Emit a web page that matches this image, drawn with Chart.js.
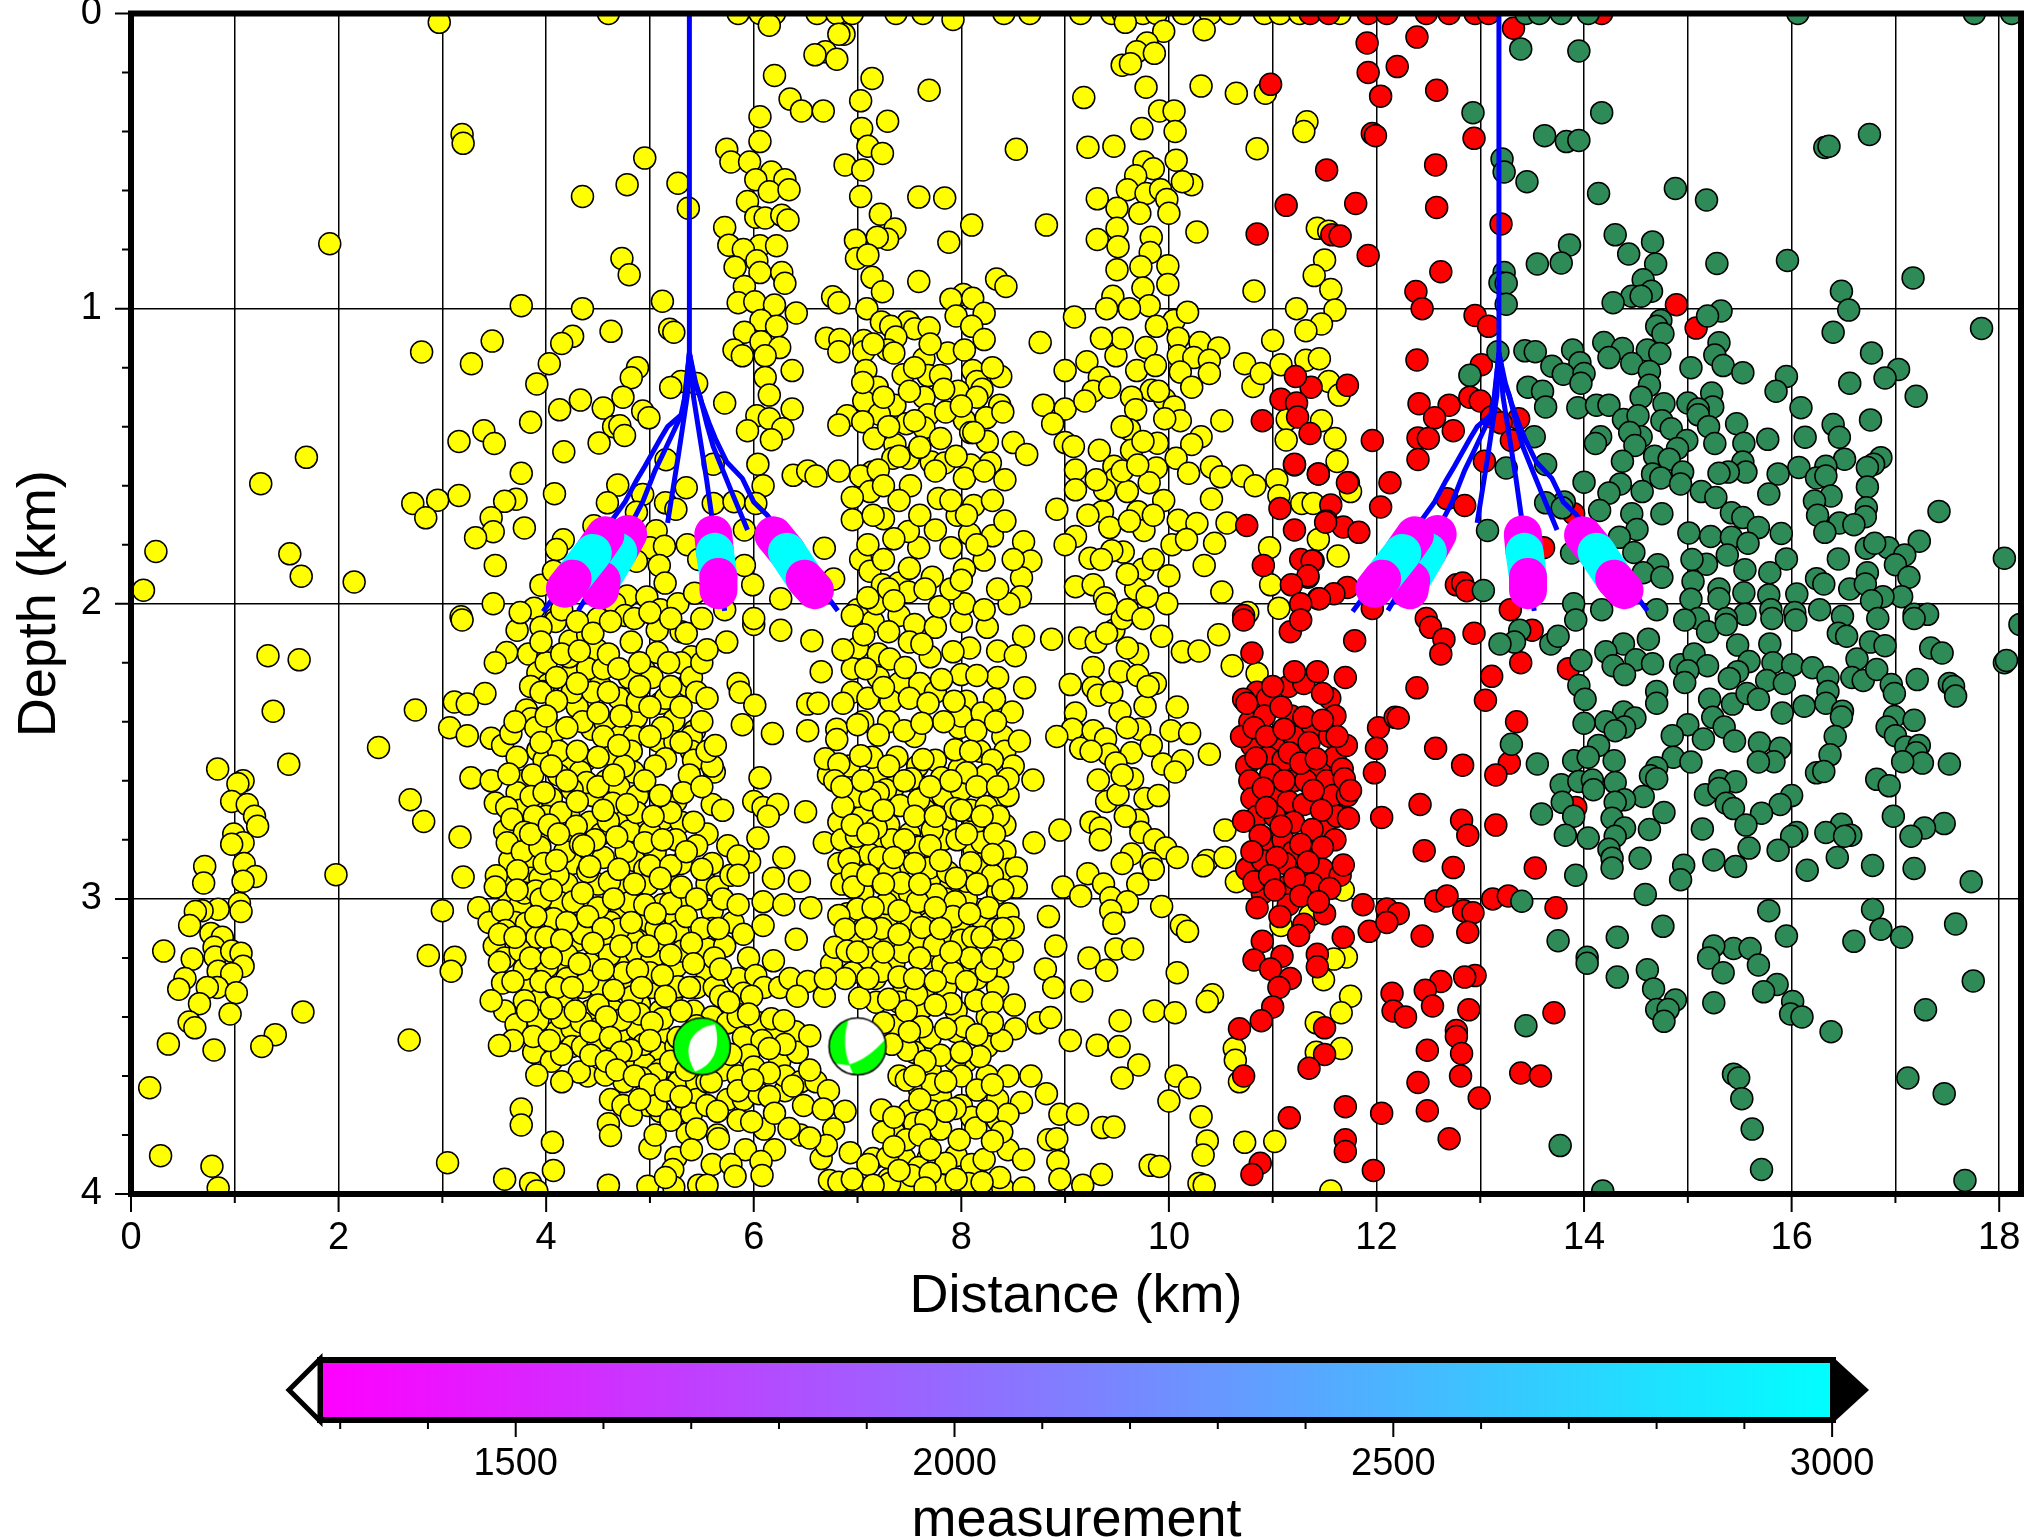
<!DOCTYPE html>
<html lang="en">
<head>
<meta charset="UTF-8">
<title>Depth section</title>
<script src="https://cdn.jsdelivr.net/npm/chart.js"></script>
<style>
  html, body { margin: 0; padding: 0; background: #fff; overflow: hidden; }
  canvas { position: absolute; left: 0; }
  #section { top: 0; }
  #colorbar { top: 1340px; }
</style>
</head>
<body>
<canvas id="section" width="2025" height="1330"></canvas>
<canvas id="colorbar" width="2025" height="214"></canvas>
<script>
// events, [distance km, depth km]
const yellowEvents = [
[2.97,.03],[3.19,.41],[3.2,.44],[4.95,.49],[4.78,.58],[5.27,.575],[4.35,.62],[5.37,.66],[1.915,.78],[4.73,.83],[4.8,.885],[5.12,.975],[3.76,.99],[4.35,1],[4.625,1.077],[5.19,1.07],[5.23,1.08],
[3.48,1.11],[4.255,1.094],[4.15,1.118],[2.8,1.147],[3.28,1.187],[4.03,1.187],[4.88,1.2],[4.82,1.234],[3.91,1.255],[5.3,1.247],[5.2,1.267],[5.45,1.254],[4.33,1.31],[4.74,1.3],[4.55,1.337],[4.93,1.347],[4.99,1.37],[4.13,1.343],
[3.85,1.385],[3.4,1.414],[3.5,1.457],[3.16,1.45],[4.65,1.4],[4.71,1.397],[4.755,1.43],[4.51,1.455],[4.17,1.485],[1.69,1.504],[1.25,1.593],[5.155,1.512],[3.76,1.558],[4.69,1.598],[3.16,1.633],[2.715,1.66],[2.955,1.649],[2.84,1.709],
[3.71,1.646],[3.6,1.653],[3.47,1.709],[4.08,1.627],[4.93,1.63],[4.59,1.658],[5.15,1.658],[5.25,1.68],[5.35,1.607],[4.87,1.69],[3.49,1.756],[3.32,1.776],[3.79,1.743],[4.46,1.736],[4.165,1.783],[4.1,1.816],[5.06,1.753],[5,1.81],[5.14,1.805],[5.36,1.8],[5.47,1.85],[5.09,1.87],
[.24,1.823],[1.53,1.831],[1.64,1.907],[2.15,1.926],[.12,1.954],[3.51,1.87],[3.95,1.937],[4.07,1.89],[4.87,1.856],[3.49,2],[3.885,2.015],[3.18,2.044],[5.146,1.93],[4.78,1.974],[4.97,1.977],[4.66,2],[5.1,2.02],[5.27,2],[5.43,1.964],[4.5,2.05],[4.09,2.05],[4.76,2.04],
[3.19,2.055],[1.32,2.176],[1.62,2.19],[1.37,2.364],[3.72,2.09],[3.62,2.165],[3.51,2.2],[3.83,2.17],[4.015,2.18],[4.09,2.06],[4.23,2.126],[4.4,2.105],[4.49,2.156],[4.82,2.13],[5.07,2.09],[5.07,2.165],[5.3,2.095],[5.4,2.18],[3.92,2.234],[4.02,2.274],[3.97,2.297],[4.245,2.236],[4.52,2.277],[4.95,2.227],[4.78,2.324],[5.1,2.337],[5.36,2.277],[4.3,2.35],[3.41,2.304],[3.115,2.333],[3.24,2.34],[2.74,2.36],[3.81,2.36],[3.855,2.39],
[3.07,2.42],[3.24,2.447],[2.385,2.487],[3.47,2.456],[3.58,2.48],[3.66,2.44],[4.03,2.425],[4.09,2.43],[3.92,2.496],[4.44,2.425],[4.57,2.405],[4.87,2.385],[5.23,2.395],[5.08,2.465],[5.24,2.468],[4.71,2.45],[5.43,2.43],[4.61,2.51],[5.15,2.525],[4.24,2.546],
[3.85,2.28],[3.7,2.4],[4,2.2],[4.22,2.18],[4.4,2.22],[4.55,2.22],[4.8,2.25],[5.02,2.25],[5.3,2.2],[3.95,2.3],[4.25,2.3],[4.45,2.3],[4.7,2.32],[4.88,2.33],[5.15,2.32],[5.4,2.25],[4.35,2.4],[4.55,2.45],[4.85,2.45],[5.12,2.42],[5.4,2.45],[5.4,2.5],[3.9,2.42],
[1.52,2.544],[.835,2.56],[1.08,2.6],[1.03,2.61],[.97,2.67],[1.12,2.68],[1.19,2.72],[1.22,2.754],[.99,2.78],[1.08,2.81],[.97,2.815],[1.09,2.88],[1.2,2.924],[1.08,2.94],[.71,2.89],[.7,2.946],[1.975,2.918],[1.045,3.016],[1.06,3.043],[.84,3.035],[.685,3.04],[.62,3.043],[.565,3.09],[.77,3.117],[.88,3.13],[.315,3.177],[.59,3.204],[.8,3.164],[.81,3.197],[.97,3.177],[1.06,3.184],[1.08,3.228],[.84,3.245],[.97,3.254],[.52,3.27],[.46,3.306],[.83,3.3],[.735,3.3],[1.015,3.318],[.66,3.355],[.955,3.39],[1.657,3.383],[.56,3.417],[.615,3.437],[1.39,3.46],[1.26,3.5],[.36,3.492],[.8,3.512],[2.68,3.478],[.18,3.64],[.285,3.87],[.78,3.906],[.84,3.98],
[2.69,2.664],[2.82,2.738],[3.17,2.79],[3.2,2.926],[3,3.04],[3.35,3.03],[3.275,2.59],[2.865,3.192],[3.12,3.198],[3.085,3.245],[3.05,3.894],
[3.72,2.52],[3.98,2.53],[4.12,2.5],[4.38,2.53],[4.82,2.5],[5.42,2.53],[3.78,2.6],[4.12,2.58],[4.33,2.57],[4.58,2.6],[4.84,2.57],[5.05,2.55],[5.38,2.58],[5.62,2.57],[3.72,2.64],[3.95,2.68],[4.05,2.66],[4.45,2.65],[4.7,2.62],[4.88,2.65],[5.25,2.67],[5.6,2.68],[3.75,2.7],[4,2.72],[4.22,2.72],[4.42,2.74],[4.72,2.73],[4.92,2.75],[5.12,2.73],[5.3,2.74],[5.55,2.78],[3.6,2.77],[3.92,2.8],[4.25,2.8],[4.53,2.78],[4.8,2.77],[5.05,2.84],[5.25,2.8],[5.45,2.82],[3.65,2.87],[3.85,2.86],[4.25,2.88],[4.55,2.86],[4.85,2.87],[4.95,2.9],[5.3,2.88],[5.6,2.88],[3.6,2.95],[3.85,2.93],[4.2,2.95],[4.5,2.95],[4.75,2.96],[4.98,2.95],[5.2,2.95],[5.55,2.95],[3.65,3],[3.75,3.02],[4.2,3.02],[4.38,3.02],[4.72,3.05],[4.88,3.02],[5.12,3.02],[5.28,3.02],[5.6,3.04],[3.45,3.08],[3.7,3.08],[4,3.08],[4.3,3.09],[4.62,3.08],[4.9,3.1],[5.25,3.07],[5.6,3.1],[3.5,3.16],[3.85,3.14],[4.08,3.16],[4.3,3.14],[4.58,3.16],[4.85,3.14],[5.1,3.17],[5.3,3.14],[5.55,3.17],[3.6,3.2],[3.92,3.22],[4.12,3.24],[4.42,3.22],[4.7,3.22],[4.95,3.24],[5.25,3.23],[5.55,3.25],[3.85,3.29],[4,3.3],[4.2,3.27],[4.35,3.3],[4.52,3.3],[4.78,3.3],[5.02,3.3],[5.22,3.32],[5.45,3.3],[5.62,3.3],[3.6,3.38],[3.88,3.38],[4.22,3.36],[4.42,3.38],[4.65,3.38],[4.9,3.36],[5.1,3.38],[5.42,3.38],[5.6,3.4],[3.8,3.45],[4.1,3.45],[4.25,3.44],[4.5,3.44],[4.72,3.45],[4.88,3.44],[5.12,3.47],[5.45,3.43],[5.75,3.42],[3.88,3.52],[4.05,3.55],[4.25,3.5],[4.35,3.5],[4.82,3.55],[4.92,3.5],[5.08,3.52],[5.25,3.5],[4.4,3.6],[4.75,3.62],[4.95,3.56],[5.1,3.58],[5.28,3.62],[5.45,3.62],[5.7,3.58],[5.85,3.6],[4.62,3.68],[4.98,3.7],[5.1,3.72],[5.35,3.72],[5.45,3.68],[5.75,3.68],[5.9,3.68],[6.05,3.66],[6.3,3.65],
[5.6,2.55],[5.7,2.7],[5.75,2.82],[5.65,2.96],[5.78,2.92],[5.7,3],[5.8,3.08],[5.9,3.12],[5.72,3.16],[5.95,3.2],[5.62,3.2],[5.85,3.27],[6.02,3.26],[6.1,3.3],[5.68,3.33],[5.9,3.32],[6.25,3.3],[6.35,3.27],[5.85,3.4],[6.05,3.42],[6.22,3.45],[5.62,3.47],[5.9,3.47],[6.08,3.48],[6.4,3.45],[5.72,3.52],[5.95,3.53],[6.25,3.55],[6.42,3.52],[6,3.57],[6.3,3.6],[6.45,3.62],[5.85,3.65],[6.15,3.67],[6.48,3.7],[6.6,3.62],[6.68,3.33],[6.72,3.65],[5.85,3.75],[6.1,3.78],[6.45,3.8],[6.65,3.88],[6.2,3.85],[5.6,3.9],[5.92,3.85],
[3.47,2.6],[3.64,2.577],[3.87,2.58],[3.51,2.675],[3.62,2.69],[3.67,2.73],[3.855,2.653],[3.885,2.72],[4.14,2.707],[4.29,2.754],[4.39,2.606],[4.25,2.63],[4.64,2.676],[4.6,2.737],[4.87,2.707],[5,2.774],[5.2,2.707],[5.32,2.64],[3.79,2.774],[3.625,2.81],[3.77,2.84],[3.94,2.825],[4.18,2.84],[4.47,2.8],[4.33,2.815],[4.77,2.84],[5,2.888],[5.2,2.888],[4.61,2.942],[4.4,2.908],[4.115,2.92],[3.94,2.93],[3.725,2.905],[3.52,2.922],[3.51,2.96],[3.79,2.98],[3.9,2.973],[4.13,3.012],[4.26,3.01],[4.8,3.013],[5.2,3.016],[3.58,3.04],[3.81,3.083],[3.61,3.107],[4.07,3.067],[3.91,3.13],[4.35,3.117],[4.7,3.103],[4.99,3.077],[5.06,3.1],[5.27,3.11],[3.55,3.12],[3.75,3.175],[4.2,3.19],[4.61,3.19],[4.87,3.184],[5.31,3.177],[3.55,3.215],[3.79,3.238],[4.01,3.23],[4.75,3.25],[5.02,3.204],[5,3.25],[3.58,3.285],[4.4,3.278],[5.27,3.298],[3.92,3.345],[3.47,3.345],[3.79,3.345],[4.15,3.35],[4.83,3.332],[4.5,3.36],[4.72,3.41],[4.9,3.39],[5.12,3.406],[3.92,3.413],[4.15,3.403],[4.34,3.417],[3.71,3.426],[3.875,3.466],[3.68,3.48],[3.55,3.497],[4.5,3.487],[4.94,3.493],[4.82,3.513],[4.15,3.527],[4.03,3.48],[3.91,3.597],[4.32,3.587],[4.57,3.597],[4.15,3.62],[5.06,3.594],[4.92,3.607],[3.76,3.712],[3.76,3.766],[4.74,3.7],[4.82,3.733],[5.06,3.7],[4.6,3.762],[4.62,3.802],[5.4,3.728],[4.06,3.825],[4.07,3.92],[5,3.845],[5.25,3.876],[5.22,3.917],[3.6,3.95],[3.85,3.964],[3.91,3.99],[4.6,3.97],[4.98,3.974],[5.23,3.977],[5.47,3.97],[5.15,3.944],[5.36,3.796],
[4.05,2.55],[4.2,2.6],[4.5,2.62],[4.75,2.55],[4.95,2.6],[5.1,2.65],[4.65,2.58],[3.98,2.64],[4.3,2.67],[4.55,2.7],[4.78,2.68],[5.03,2.72],[5.42,2.74],[5.5,2.62],[3.85,2.78],[4.03,2.75],[4.12,2.78],[4.36,2.82],[4.68,2.79],[4.95,2.81],[5.12,2.8],[5.35,2.84],[5.5,2.9],[3.98,2.88],[4.1,2.87],[4.42,2.89],[4.7,2.9],[4.85,2.95],[5.1,2.93],[5.3,2.96],[5.45,3],[3.72,2.97],[3.95,3],[4.05,2.97],[4.35,2.98],[4.5,3.03],[4.65,3],[4.95,3.02],[5.05,3.05],[5.35,3.06],[5.5,3.1],[3.9,3.06],[4.2,3.08],[4.4,3.06],[4.55,3.1],[4.82,3.08],[5.15,3.12],[5.4,3.15],[3.7,3.13],[4,3.13],[4.15,3.14],[4.45,3.15],[4.72,3.16],[4.98,3.16],[5.2,3.19],[5.42,3.22],[3.85,3.2],[4.05,3.2],[4.32,3.22],[4.55,3.24],[4.88,3.24],[5.12,3.26],[5.38,3.3],[3.68,3.28],[3.95,3.28],[4.1,3.3],[4.25,3.3],[4.65,3.31],[4.92,3.3],[5.15,3.33],[5.3,3.38],[3.82,3.38],[4.05,3.37],[4.28,3.38],[4.58,3.4],[4.8,3.38],[5.02,3.42],[5.27,3.47],[4.43,3.45],[4.62,3.47],[4.72,3.52],[5,3.48],[5.2,3.55],[5.35,3.58],[5.55,3.62],[4.43,3.53],[4.58,3.55],[4.68,3.58],[4.85,3.6],[5,3.63],[5.15,3.65],[5.3,3.67],[4.9,3.68],[5.2,3.75],[5.45,3.78],[5.55,3.7],[5.65,3.8],[5.4,3.85],[5.05,3.8],
[3.75,2.03],[3.95,2.08],[4.15,2.02],[4.3,2.06],[4.45,2.1],[4.62,2.06],[4.85,2.05],[5,2.03],[5.2,2.05],[5.35,2.1],[5.5,2.05],[3.95,2.13],[4.15,2.17],[4.32,2.16],[4.6,2.17],[4.7,2.22],[4.9,2.2],[5.18,2.2],[5.5,2.2],[4.1,2.25],[4.3,2.27],[4.6,2.3],[4.9,2.28],[5.2,2.28],[5.45,2.3],[4.1,2.33],[4.5,2.37],[4.72,2.38],[5,2.35],[5.3,2.35],[5.5,2.4],[4,2.38],[4.2,2.42],[4.7,2.48],[5,2.45],[5.3,2.47],[5.55,2.5],[3.95,2.47],[4.3,2.5],[4.5,2.52],
[6,2.07],[5.74,2.13],[5.55,2.156],[6.26,2.09],[6.56,2.125],[6.65,2.23],[5.85,2.27],[5.87,2.3],[5.55,2.32],[6.01,2.344],[6.52,2.34],[6.62,2.337],[5.89,2.41],[6.18,2.44],[6.52,2.43],[5.63,2.48],[6.06,2.59],[6,2.67],[6.09,2.69],[6.23,2.68],[6.5,2.705],[6.14,2.72],[6.04,2.794],[6.68,2.81],[6.29,2.86],[5.96,2.875],[5.85,2.855],[6.19,2.93],[6.44,2.94],[5.85,2.92],[6.09,3.01],[6.29,3.02],[6.55,3.03],[5.85,3.02],[6.09,3.09],[5.66,3.1],[6.41,3.137],[6.19,3.21],[5.68,3.238],[6.52,3.28],[5.98,3.33],[6.42,3.33],[5.76,3.35],[6.17,3.406],[6.29,3.413],[5.95,3.39],[6.54,3.464],[6.3,3.493],[6.15,3.507],[6.54,3.58],[5.78,3.527],[6.15,3.59],[5.59,3.62],[6.375,3.634],[5.99,3.614],[5.65,3.72],[6.2,3.726],[6.67,3.712],[5.98,3.755],[6.34,3.778],[6.88,3.72],[6.77,3.78],[6.7,3.836],[6.54,3.81],[5.66,3.813],[5.78,3.9],[5.82,3.94],[6.07,3.89],[6.08,3.937],[6.93,3.86],[5.55,3.97],
[7,2.02],[7.15,2.06],[7.4,2.04],[7.55,2.07],[7.75,2.08],[8,2.06],[8.25,2.08],[7,2.15],[7.2,2.17],[7.5,2.13],[7.7,2.18],[8.08,2.15],[8.35,2.16],[6.95,2.22],[7.2,2.25],[7.4,2.27],[7.6,2.27],[8,2.24],[8.35,2.25],[6.95,2.3],[7.1,2.32],[7.32,2.33],[7.5,2.32],[7.75,2.3],[8.05,2.33],[7.05,2.4],[7.3,2.4],[7.55,2.45],[7.98,2.42],[8,2.38],[8.4,2.45],[6.72,2.58],[6.92,2.55],[7.2,2.58],[7.35,2.62],[7.58,2.55],[7.75,2.53],[7.98,2.56],[8.18,2.5],[8.42,2.5],[8.5,2.55],[6.95,2.66],[7.27,2.63],[7.6,2.62],[7.82,2.65],[8,2.63],[8.35,2.67],[8.45,2.65],[6.82,2.74],[7.05,2.72],[7.3,2.75],[7.5,2.78],[7.65,2.7],[7.85,2.75],[8.12,2.75],[8.42,2.75],[6.85,2.8],[7.2,2.82],[7.33,2.8],[7.55,2.82],[7.82,2.8],[8.12,2.83],[8.42,2.84],[6.82,2.88],[7.02,2.85],[7.12,2.85],[7.45,2.88],[7.7,2.95],[7.9,2.95],[8.2,2.88],[8.45,2.9],[6.85,2.95],[7.05,2.98],[7.35,3],[7.5,2.98],[7.62,3.03],[7.85,3],[8.05,3],[8.35,2.98],[6.9,3.05],[7.1,3.05],[7.28,3.07],[7.52,3.07],[7.7,3.08],[7.98,3.08],[8.2,3.07],[7.02,3.13],[7.15,3.15],[7.32,3.15],[7.55,3.14],[7.85,3.14],[8,3.14],[8.35,3.16],[7.1,3.2],[7.35,3.22],[7.68,3.2],[7.82,3.22],[8,3.22],[8.4,3.23],[6.75,3.22],[6.95,3.25],[7.17,3.27],[7.45,3.3],[7.65,3.3],[7.85,3.3],[8.15,3.27],[8.35,3.3],[7.18,3.35],[7.4,3.35],[7.62,3.37],[7.95,3.38],[8.25,3.4],[7.15,3.48],[7.35,3.43],[7.7,3.47],[7.95,3.45],[8.25,3.5],[8.05,3.55],[7.55,3.52],[7.7,3.58],[8.25,3.6],[8.45,3.6],[7.4,3.6],[7.6,3.65],[7.8,3.67],[8,3.7],[8.35,3.68],[7.5,3.72],[7.72,3.72],[8.1,3.74],[8.35,3.75],[7.35,3.79],[7.55,3.76],[7.8,3.78],[7.45,3.88],[7.68,3.88],[7.95,3.87],[8.1,3.9],[8.45,3.85],[7.15,3.88],[7.3,3.95],[7.5,3.98],[7.85,3.95],[8.4,3.98],
[6.86,2.156],[7.06,2.105],[7.3,2.095],[7.62,2.136],[7.92,2.163],[7.08,2.22],[7.31,2.187],[7.46,2.216],[7.81,2.257],[8.15,2.243],[8.6,2.11],[8.87,2.12],[8.52,2.176],[9.14,2.116],[8.61,2.285],[7.25,2.284],[6.86,2.337],[7.68,2.337],[7.93,2.33],[8.32,2.324],[8.2,2.37],[8.49,2.367],[7.83,2.4],[6.8,2.425],[7,2.41],[6.8,2.46],[7.2,2.445],[7.45,2.43],[7.62,2.405],[8.14,2.43],[8.33,2.4],[8.56,2.465],[6.69,2.525],[6.82,2.543],[7.14,2.52],[7.03,2.515],[7.38,2.52],[7.63,2.528],[7.94,2.495],[8.09,2.5],[8.3,2.53],[8.69,2.597],[8.45,2.593],[8.24,2.58],[8.05,2.573],[7.81,2.59],[7.52,2.593],[7.2,2.64],[7,2.653],[6.86,2.687],[7.12,2.664],[7.41,2.684],[7.59,2.664],[7.94,2.694],[8.09,2.7],[8.24,2.687],[8.36,2.72],[7.18,2.76],[6.99,2.788],[7.72,2.767],[7.96,2.8],[8.2,2.808],[8.7,2.81],[7.59,2.825],[6.92,2.866],[7.21,2.86],[7.31,2.91],[6.95,2.915],[7.69,2.895],[7.87,2.91],[8.09,2.878],[8.3,2.92],[8.53,2.895],[8.05,2.94],[7.42,2.946],[6.96,2.96],[7.76,2.985],[8.53,2.96],[7.28,3.016],[7.58,3.01],[7.94,3.01],[8.26,3.03],[7,3.034],[6.82,3.056],[7.92,3.06],[8.45,3.05],[7.23,3.1],[7.62,3.097],[6.88,3.103],[8.5,3.097],[8.33,3.103],[7.74,3.157],[8.11,3.13],[6.78,3.164],[6.9,3.177],[7.44,3.18],[8.49,3.177],[8.09,3.2],[8.24,3.245],[7.23,3.245],[7.92,3.25],[7.4,3.265],[6.88,3.27],[6.69,3.27],[7.02,3.336],[7.57,3.325],[8.14,3.345],[7.9,3.355],[8.51,3.36],[8.3,3.352],[7.47,3.38],[8.03,3.433],[7.62,3.433],[8.52,3.44],[8.74,3.42],[8.86,3.402],[7.48,3.513],[8.39,3.48],[8.18,3.534],[7.94,3.547],[7.33,3.493],[7.47,3.614],[8,3.6],[8.67,3.6],[8.15,3.648],[7.72,3.628],[8.82,3.66],[8.58,3.69],[7.23,3.715],[7.94,3.71],[7.66,3.75],[8.45,3.73],[8.95,3.73],[9.12,3.73],[7.25,3.79],[8.14,3.776],[7.47,3.816],[7.98,3.816],[8.39,3.79],[8.84,3.816],[8.92,3.813],[7.29,3.876],[7.85,3.896],[8.22,3.883],[8.6,3.883],[8.93,3.89],[7.59,3.91],[6.73,3.954],[6.82,3.96],[7.01,3.98],[7.31,3.964],[7.52,3.937],[7.81,3.97],[8.07,3.964],[8.37,3.944],[8.6,3.98],[8.95,3.95],[9.35,3.934],[9.17,3.97],
[6.78,2.6],[6.85,2.62],[7.05,2.6],[7.3,2.55],[7.45,2.6],[7.7,2.62],[7.9,2.6],[8.15,2.62],[8.35,2.62],[7.25,2.7],[7.55,2.72],[7.75,2.72],[8,2.7],[8.2,2.72],[6.95,2.75],[7.1,2.78],[7.45,2.8],[7.7,2.82],[8.05,2.78],[8.32,2.78],[7.35,2.86],[7.55,2.88],[7.8,2.87],[8.3,2.85],[7.1,2.92],[7.25,2.95],[7.6,2.95],[7.95,2.93],[8.15,2.95],[8.4,2.97],[7.15,3.03],[7.4,3.04],[7.75,3.03],[8.08,3.05],[8.4,3.1],[7.08,3.1],[7.4,3.12],[7.8,3.1],[8.2,3.13],[7,3.18],[7.25,3.18],[7.6,3.2],[7.9,3.18],[8.3,3.2],[7.1,3.27],[7.55,3.27],[7.75,3.28],[8.05,3.28],[7.3,3.34],[7.75,3.36],[8.3,3.42],[7.25,3.42],[7.5,3.45],[7.85,3.44],[8.15,3.46],[7.8,3.53],[8,3.52],[7.65,3.55],[7.55,3.6],[7.85,3.62],[8.3,3.63],[7.6,3.68],[7.85,3.72],[8.25,3.72],[7.35,3.74],[7.6,3.8],[8.3,3.82],[7.35,3.84],[7.7,3.85],[7.1,3.9],[7.4,3.92],[7.7,3.93],[7.95,3.95],[8.2,3.96],[6.95,3.95],[7.15,3.97],[7.65,3.98],
[9.47,2.09],[9.3,2.13],[9.93,2.11],[10.48,2.105],[10.13,2.163],[10.29,2.16],[10.61,2.21],[10.85,2.236],[9.7,2.17],[9.27,2.216],[9.53,2.23],[9.7,2.243],[9.87,2.27],[9.05,2.274],[9.27,2.284],[9.32,2.31],[9.1,2.37],[9.53,2.365],[9.77,2.347],[10.08,2.35],[9.07,2.425],[8.92,2.45],[9.15,2.49],[9.27,2.43],[9.72,2.425],[9.39,2.458],[10.02,2.43],[10.2,2.44],[9.64,2.505],[9.83,2.48],[9.42,2.51],[10.39,2.51],[9.49,2.54],[9.94,2.543],[10.13,2.532],[10.06,2.57],[9.32,2.597],[9.65,2.593],[9.77,2.66],[9.4,2.67],[9.51,2.646],[8.95,2.767],[9.25,2.74],[9.34,2.76],[9.34,2.8],[9.7,2.734],[9.73,2.774],[9.86,2.8],[9.64,2.848],[9.97,2.828],[10.08,2.86],[9.83,2.88],[10.37,2.87],[10.54,2.86],[10.54,2.767],[9.22,2.915],[9.7,2.95],[8.98,2.96],[9.15,2.99],[9.37,2.95],[9.44,2.996],[9.6,3.01],[9.93,3.026],[9.44,3.04],[9.47,3.083],[8.84,3.06],[10.12,3.09],[10.18,3.11],[8.91,3.16],[9.49,3.17],[9.65,3.17],[9.23,3.2],[9.4,3.242],[8.81,3.238],[8.89,3.3],[9.16,3.312],[10.08,3.25],[10.42,3.325],[10.37,3.348],[9.86,3.38],[10.06,3.386],[9.53,3.413],[9.05,3.48],[9.31,3.496],[9.52,3.5],[9.71,3.563],[9.55,3.607],[10.07,3.6],[10.2,3.64],[10,3.685],[10.31,3.738],[9.36,3.775],[9.47,3.773],[10.37,3.82],[10.33,3.868],[9.82,3.903],[9.91,3.907],[10.29,3.964],[10.34,3.97],[10.63,3.507],[10.64,3.547],[10.68,3.62],[10.73,3.825],[11.02,3.822],[11.56,3.99],[11.75,3.33],[11.66,3.386],[11.42,3.42],[11.66,3.507],[11.42,3.52],[11.71,3.197],[11.59,3.204],[11.49,3.274],[11.08,3.09],[11.36,3.056],[11.68,2.97],[10.65,2.942],[10.76,2.895],[10.33,2.888],
[5.85,0],[6.06,0],[6.2,0],[6.61,0],[6.8,0],[6.95,0],[7.37,0],[7.63,0],[7.92,.02],[8.41,0],[8.66,0],[9.15,0],[9.45,0],[9.56,0],[9.75,0],[9.88,0],[10.14,0],[10.4,0],[10.59,0],[10.92,0],[11.07,0],[11.26,0],[11.65,0],[4.6,0],[6.15,.04],[9.95,.06],[10.34,.055],[9.58,.03],
[6.87,.07],[6.82,.07],[6.69,.13],[6.59,.14],[6.8,.155],[9.79,.1],[9.69,.13],[9.86,.135],[9.55,.175],[9.63,.17],[6.2,.21],[7.14,.22],[7.69,.26],[9.78,.25],[10.31,.246],[10.65,.27],[9.18,.285],[10.93,.27],[6.35,.29],[6.46,.33],[6.67,.33],[7.03,.296],[6.06,.35],[9.91,.33],[10.05,.33],[7.29,.365],[7.04,.39],[9.74,.39],[10.06,.4],[11.33,.367],[11.3,.4],[5.74,.46],[6.06,.434],[7.1,.45],[7.24,.474],[8.53,.46],[9.22,.453],[9.47,.45],[10.85,.458],[5.78,.503],[5.96,.503],[6.88,.513],[7.05,.53],[9.76,.503],[10.07,.497],[9.85,.526],[6.17,.537],[6.3,.563],[6.02,.563],[6.15,.604],[6.34,.597],[9.68,.55],[10.22,.58],[10.13,.57],[9.6,.597],[9.78,.61],[9.92,.597],[5.94,.637],[7.03,.62],[7.59,.622],[7.84,.625],[9.31,.628],[9.5,.66],[9.98,.63],[9.72,.677],[10,.677],[6.02,.69],[6.11,.693],[6.27,.684],[6.33,.7],[7.22,.68],[8.1,.717],[8.82,.717],[5.72,.725],[7.36,.73],[7.29,.765],[7.19,.758],[6.98,.768],[7.88,.775],[9.5,.728],[9.31,.766],[9.51,.79],[9.83,.758],[10.27,.74],[11.43,.728],[11.54,.738],[5.76,.785],[6.06,.787],[6.22,.787],[5.9,.8],[6.99,.83],[7.1,.818],[9.82,.81],[5.82,.86],[6.03,.838],[11.5,.835],[6.06,.878],[6.27,.878],[6.3,.914],[9.5,.868],[9.73,.858],[9.99,.855],[9.99,.918],[11.4,.888],[7.14,.894],[7.59,.908],[8.34,.9],[8.43,.925],[5.91,.925],[7.24,.943],[6.76,.96],[6.82,.98],[8.02,.952],[7.9,.968],[8.11,.965],[10.82,.94],[9.75,.93],[11.56,.935],[9.46,.958],[5.85,.98],[6.01,.977],[6.2,.988],[6.41,1.015],[7.09,1],[9.81,.99],[9.4,1],[11.23,1],[11.6,1.005],[7.95,1.025],[8.22,1.016],[9.09,1.028],[10.05,1.04],[10.18,1.012],[11.47,1.052],[6.07,1.04],[7.23,1.045],[7.49,1.045],[8.1,1.06],[5.91,1.08],[6.22,1.06],[9.88,1.06],[11.32,1.075],[6.7,1.1],[6.83,1.105],[7.32,1.06],[7.55,1.068],[7.69,1.065],[8.22,1.105],[8.76,1.115],[10.09,1.1],[10.3,1.115],[10.48,1.133],[11,1.108],[6.07,1.112],[5.81,1.14],[5.89,1.16],[6.25,1.132],[6.82,1.146],[7.06,1.108],[7.06,1.146],[7.37,1.096],[7.29,1.14],[7.87,1.15],[8.03,1.14],[9.78,1.132],[10.09,1.16],[10.24,1.166],[10.39,1.175],[9.49,1.16],[9.21,1.18],[6.11,1.16],[6.37,1.21],[7.64,1.17],[10.73,1.187],[11.08,1.19],[11.32,1.175],[11.45,1.17],[9,1.21],[9.69,1.21],[9.87,1.193],[10.11,1.215],[10.39,1.22],[6.11,1.233],[7.08,1.21],[7.44,1.224],[7.68,1.227],[7.8,1.227],[8.11,1.21],[8.38,1.23],[7.19,1.266],[9.33,1.233],[10.81,1.264],[10.89,1.22],[11.54,1.247],[8.15,1.247],[6.15,1.293],[7.97,1.28],[7.83,1.273],[8.2,1.273],[9.27,1.28],[9.43,1.266],[9.83,1.277],[10.22,1.266],[11.64,1.293],[7.64,1.3],[8.15,1.3],[7.36,1.327],[7.06,1.313],[8.37,1.327],[6.37,1.34],[5.72,1.32],[8.79,1.327],[9,1.34],[9.19,1.313],[9.64,1.3],[9.96,1.307],[9.68,1.343],[10.05,1.333],[6.03,1.363],[6.15,1.373],[6.9,1.363],[6.82,1.394],[7.21,1.358],[7.05,1.383],[7.47,1.39],[8.03,1.378],[8.24,1.37],[10.51,1.38],[10.11,1.38],[9.96,1.373],[8.88,1.39],[11.14,1.376],[11.47,1.38],[5.94,1.414],[6.28,1.407],[7.68,1.36],[7.64,1.404],[8.09,1.42],[9.62,1.41],[10.31,1.434],[6.17,1.444],[7.16,1.44],[7.8,1.44],[8.5,1.454],[9,1.454],[9.89,1.456],[10.22,1.46],[11.6,1.44],[11.13,1.445],[9.33,1.48],[9.64,1.48],[8.63,1.494],[9.08,1.467],[7.36,1.46],[6.04,1.527],[5.61,1.527],[7.34,1.507],[7.49,1.507],[7.71,1.52],[7.84,1.523],[8.28,1.523],[8.09,1.53],[7.14,1.554],[7.03,1.567],[7.2,1.547],[9.88,1.54],[10.07,1.507],[10.41,1.537],[10.19,1.558],[9.1,1.547],[9.47,1.534],[11.21,1.53],[11.44,1.56],[11.62,1.518],[6.38,1.565],[6.52,1.55],[6.6,1.567],[6.82,1.55],[6.09,1.6],[7.51,1.6],[8.03,1.575],[10.5,1.57],[9.81,1.59],[9.49,1.575],[10.71,1.567],[10.83,1.6],[11.04,1.58],[11.73,1.59],[9.6,1.62],[9.1,1.614],[9.38,1.614],[7.12,1.62],[5.61,1.66],[5.81,1.654],[6.02,1.66],[6.95,1.64],[7.78,1.643],[8.12,1.667],[10.41,1.645],[11.06,1.634],[11.28,1.66],[11.39,1.66],[11.75,1.62],[8.92,1.68],[9.36,1.688],[9.7,1.688],[6.95,1.715],[7.25,1.712],[7.96,1.7],[10.09,1.717],[10.27,1.728],[10.56,1.726],[9.43,1.742],[9.76,1.752],[5.91,1.75],[11.44,1.782],[9.1,1.772],[8.3,1.77],[8.6,1.79],[7.59,1.81],[7.9,1.81],[7.49,1.755],[8.08,1.764],[6.68,1.812],[10.03,1.8],[10.44,1.795],[10.17,1.782],[10.97,1.81],[9,1.8],[9.56,1.825],[9.45,1.82],[9.24,1.846],[7.03,1.85],[8.22,1.852],[8.67,1.855],[11.63,1.838],[7.12,1.89],[8.03,1.883],[7.72,1.91],[10.34,1.87],[9.75,1.883],[10,1.905],[7.24,1.936],[7.4,1.93],[8.58,1.912],[5.99,1.936],[5.91,1.87],[6.77,1.916],[9.1,1.942],[9.27,1.936],[9.68,1.95],[10.51,1.96],[10.98,1.936],[6.26,1.983],[8.57,1.976],[7.49,1.96],[7.18,2],[7.79,2.01],[8.03,2],[9.98,2],[8.46,2],[9.38,1.98],[9.79,1.976],[8.22,2.02],[5.72,2.02],[6,2.05],[6.95,2.04],[10.76,2.03],[11.06,2.015],[9.55,2.05],
[7.35,1.15],[7.55,1.2],[7.15,1.12],[7.05,1.25],[7.25,1.3],[7.5,1.28],[7.7,1.12],[7.3,1.4],[7.55,1.38],[7.4,1.5],[7.6,1.47],[7.25,1.6],[7.4,1.65],[7.15,1.7],[7.6,1.7],[7.35,1.78],[7.1,1.8],[7.5,1.88],[7.25,1.85],[7.3,1.95],[7.35,1.99],[7.1,1.98],[7.9,1.95],[8,1.92],[7.65,1.95],[7.9,1.65],[8.05,1.7],[7.85,1.35],[8,1.33],
[9.55,1.1],[9.35,1.1],[9.62,1],[9.9,1.28],[9.55,1.4],[9.75,1.45],[9.55,1.55],[9.3,1.58],[9.7,1.53],[9.95,1.65],[9.22,1.7],[9.62,1.72],[9.85,1.7],[9.35,1.85],[9.6,1.9],[9.85,1.85],[9.4,2],[9.6,2.02],[9.75,2.05],[9.4,2.1],[9.6,2.15],[9.8,2.28],[9.45,2.3],[9.6,2.42],[9.55,2.58],[9.25,2.5],[9.9,2.65],[9.58,2.72],[9.85,2.9],[9.55,2.88],
[8.3,1.2],[8.4,1.35],[8.25,1.45],[8.42,1.58],[8.3,1.65],[8.15,1.8],[8.42,1.72],[8.35,1.95],[8.5,1.85],[8.12,1.42],[8.22,1.55],[7.95,1.5],[7.75,1.75],[7.75,1.55]
];
const redEvents = [
[11.36,0],[11.54,0],[11.92,0],[12.1,0],[12.48,0],[12.7,0],[12.95,0],[13.08,0],[14.17,0],[13.32,.05],[12.39,.08],[11.91,.1],[12.2,.18],[11.92,.2],[12.58,.26],[12.04,.28],[11.96,.407],[11.99,.414],[12.94,.423],[11.52,.53],[12.57,.513],[11.8,.644],[12.58,.657],[13.2,.713],[11.57,.75],[11.65,.754],[11.92,.82],[12.62,.875],[12.38,.942],[12.44,1],[12.95,1.023],[13.08,1.06],[14.89,.987],[15.08,1.066],[12.39,1.174],[13.01,1.19],[11.72,1.26],[11.37,1.266],[12.41,1.322],[12.7,1.327],[12.9,1.3],[13,1.313],[12.56,1.37],[12.74,1.414],[12.4,1.438],[12.5,1.44],[11.96,1.447],[12.4,1.511],[13.11,1.367],[13.37,1.373],[13.2,1.387],[13.3,1.447],[13.04,1.517],[12.13,1.59],[11.72,1.59],[11.44,1.56],[12.68,1.644],[12.85,1.667],[12.04,1.672],[11.56,1.665],[11.52,1.72],[11.68,1.74],[11.83,1.758],[13.9,1.695],[13.61,1.81],[11.39,1.855],[11.34,1.91],[12.77,1.936],[12.83,1.93],[12.87,1.956],[11.72,1.945],[11.59,1.966],[11.44,1.983],[11.96,2.016],[12.48,2.05],[13.29,2.02],
[10.98,.24],[11.13,.65],[10.85,.747],[11.22,1.23],[11.08,1.307],[11.23,1.32],[11.24,1.367],[10.9,1.38],[11.36,1.423],[11.21,1.527],[11.07,1.677],[10.75,1.735],[11.51,1.724],[11.21,1.75],[10.91,1.87],[11.27,1.85],[11.38,1.855],[11.34,1.905],[11.18,1.936],[11.45,1.983],[11.27,2],[10.72,2.04],
[10.85,2.3],[10.95,2.32],[11.15,2.28],[11.3,2.27],[11.55,2.32],[10.78,2.4],[10.92,2.38],[11.18,2.38],[11.38,2.42],[11.6,2.38],[10.8,2.48],[11.02,2.46],[11.2,2.45],[11.35,2.47],[11.55,2.45],[10.75,2.55],[10.95,2.52],[11.1,2.53],[11.45,2.55],[11.6,2.52],[10.78,2.6],[10.98,2.58],[11.2,2.6],[11.32,2.6],[11.52,2.6],[10.8,2.66],[11.02,2.65],[11.15,2.67],[11.3,2.68],[11.58,2.65],[10.85,2.72],[11.02,2.72],[11.2,2.74],[11.5,2.76],[11.62,2.72],[10.92,2.8],[11.1,2.8],[11.2,2.84],[11.4,2.82],[11.6,2.8],[10.75,2.9],[10.9,2.87],[11.12,2.88],[11.3,2.92],[11.48,2.9],[11.65,2.92],[10.9,2.98],[11.12,2.96],[11.38,2.95],[11.15,3.02],[11.5,3.05],[10.7,2.45],[11.72,2.65],
[10.72,2.055],[11.17,2.095],[11.27,2.055],[11.79,2.125],[10.8,2.167],[11.21,2.23],[11.43,2.23],[11.7,2.25],[11,2.28],[11.48,2.304],[10.72,2.324],[10.75,2.337],[11.08,2.35],[11.3,2.385],[11.48,2.395],[10.82,2.42],[10.94,2.45],[11.11,2.425],[11.71,2.48],[11.62,2.45],[12.02,2.42],[12.18,2.385],[12,2.49],[11.98,2.573],[10.84,2.523],[11.16,2.505],[11.27,2.54],[11.42,2.525],[11.67,2.56],[11.11,2.6],[11.69,2.593],[10.91,2.625],[11.39,2.633],[11.75,2.633],[10.94,2.69],[11.47,2.7],[11.08,2.754],[11.73,2.727],[12.05,2.724],[10.72,2.737],[11.38,2.765],[10.88,2.785],[11.27,2.815],[11.48,2.825],[10.8,2.84],[11.04,2.86],[11.34,2.875],[11.68,2.885],[10.82,2.942],[10.97,2.922],[11.21,2.93],[11.55,2.965],[11.02,2.97],[11.27,2.99],[11.44,3.01],[10.85,3.03],[11.07,3.06],[11.87,3.02],[11.3,3.086],[11.25,3.124],[11.68,3.13],[10.9,3.144],[11.93,3.11],[10.82,3.207],[11.09,3.194],[11.43,3.188],[11.43,3.23],[10.98,3.238],[11.17,3.27],[11.06,3.3],[11,3.366],[10.89,3.413],[10.68,3.44],[11.5,3.437],[11.5,3.527],[11.35,3.574],[10.72,3.6],[11.7,3.704],[11.16,3.742],[12.05,3.726],[11.7,3.816],[11.7,3.856],[10.88,3.896],[10.8,3.934],[11.97,3.92],
[12.52,2.08],[12.65,2.12],[12.62,2.17],[12.94,2.1],[13.5,2.09],[13.39,2.2],[13.85,2.22],[13.11,2.246],[12.39,2.285],[13.05,2.327],[12.21,2.387],[13.35,2.4],[12.57,2.49],[12.83,2.547],[13.28,2.54],[13.15,2.58],[12.42,2.68],[13.92,2.69],[12.82,2.734],[12.88,2.784],[13.15,2.75],[12.46,2.837],[12.74,2.894],[13.53,2.895],[12.57,3.007],[12.68,2.99],[13.12,3],[13.27,2.99],[12.1,3.034],[12.21,3.05],[12.1,3.08],[12.44,3.126],[12.84,3.04],[12.93,3.047],[12.88,3.113],[13.73,3.03],[12.15,3.32],[12.62,3.28],[12.95,3.26],[12.85,3.265],[12.47,3.31],[12.16,3.38],[12.28,3.4],[12.54,3.363],[12.89,3.376],[13.71,3.386],[12.77,3.446],[12.77,3.466],[12.49,3.513],[12.82,3.524],[12.81,3.6],[13.39,3.59],[13.58,3.6],[12.4,3.622],[12.99,3.675],[12.49,3.718],[12.7,3.813]
];
const greenEvents = [
[13.44,0],[13.57,0],[13.78,0],[14.04,0],[16.06,0],[17.76,0],[18.12,0],[13.39,.12],[13.95,.127],[12.93,.336],[14.17,.336],[13.62,.414],[13.83,.434],[13.95,.43],[16.75,.41],[16.32,.454],[16.36,.45],[13.21,.493],[13.23,.537],[13.45,.57],[14.14,.61],[14.88,.593],[15.18,.632],[14.3,.75],[14.66,.774],[13.86,.784],[14.43,.815],[13.55,.849],[13.78,.845],[14.69,.849],[15.28,.847],[15.96,.837],[17.17,.896],[13.23,.878],[13.19,.912],[13.25,.914],[14.57,.902],[14.65,.941],[14.46,.958],[14.55,.958],[14.28,.98],[16.48,.941],[16.55,1.005],[13.25,.985],[15.32,1.008],[15.19,1.025],[17.83,1.067],[14.74,1.04],[14.7,1.06],[14.76,1.085],[16.4,1.08],[15.3,1.116],[15.26,1.157],[15.34,1.193],[15.53,1.217],[14.19,1.115],[14.37,1.135],[14.24,1.166],[14.61,1.14],[14.73,1.152],[14.46,1.186],[13.17,1.146],[13.43,1.143],[13.53,1.146],[13.89,1.14],[13.96,1.183],[16.77,1.15],[13.69,1.195],[13.8,1.222],[12.9,1.226],[14,1.22],[14.63,1.213],[15.03,1.2],[15.95,1.23],[17.03,1.206],[16.9,1.235],[16.56,1.253],[13.46,1.266],[13.97,1.253],[14.63,1.26],[15.85,1.28],[13.6,1.28],[15.23,1.286],[17.2,1.297],[13.63,1.333],[13.94,1.336],[14.12,1.327],[14.24,1.327],[14.55,1.3],[14.77,1.322],[15,1.32],[15.24,1.333],[15.1,1.34],[16.09,1.336],[14.38,1.376],[14.52,1.363],[14.75,1.38],[15.1,1.36],[15.47,1.39],[16.76,1.377],[16.4,1.393],[16.46,1.436],[16.13,1.436],[15.77,1.443],[15.2,1.4],[14.84,1.407],[13.52,1.434],[14.16,1.434],[14.11,1.457],[14.55,1.434],[14.44,1.42],[14.99,1.447],[15.26,1.457],[15.54,1.456],[14.49,1.464],[14.9,1.474],[14.68,1.5],[14.82,1.51],[16.51,1.51],[16.07,1.538],[13.25,1.54],[13.63,1.528],[14.37,1.517],[15.53,1.52],[16.86,1.505],[16.79,1.527],[16.73,1.538],[16.33,1.534],[15.87,1.56],[15.56,1.554],[15.39,1.554],[15.3,1.558],[14.66,1.56],[14.74,1.574],[14.95,1.554],[16.24,1.574],[16.33,1.567],[14,1.588],[14.35,1.594],[14.93,1.594],[16.73,1.604],[16.38,1.635],[14.56,1.62],[14.24,1.625],[15.13,1.62],[15.78,1.628],[15.27,1.64],[16.22,1.652],[13.81,1.655],[13.63,1.658],[13.79,1.675],[14.15,1.684],[14.46,1.695],[14.75,1.695],[15.42,1.692],[15.53,1.708],[17.42,1.687],[16.72,1.675],[16.71,1.705],[16.25,1.7],[16.46,1.726],[15.68,1.742],[13.07,1.752],[14.51,1.748],[15.01,1.76],[15.22,1.772],[15.42,1.775],[15.9,1.762],[16.6,1.732],[17.23,1.788],[16.32,1.758],[14.34,1.775],[15.58,1.795],[16.72,1.812],[16.93,1.81],[16.8,1.795],[17.09,1.835],[16.45,1.848],[15.95,1.848],[17,1.868],[18.05,1.846],[14.48,1.826],[13.88,1.828],[14.71,1.868],[15.18,1.866],[15.04,1.85],[15.38,1.835],[15.79,1.895],[15.55,1.885],[16.24,1.915],[16.73,1.895],[17.13,1.91],[16.56,1.95],[16.31,1.933],[15.05,1.925],[15.3,1.95],[15.54,1.963],[15.78,1.97],[16.05,1.967],[16.71,1.933],[17.06,1.976],[16.88,1.976],[14.57,1.895],[14.75,1.91],[13.03,1.955],[13.9,2],[14.17,2.02],[14.7,2.02],[15.03,1.985],[15.3,1.983],[16.77,1.99],[17.18,2.036],[17.31,2.036],[15.8,2.02],[16.27,2.02],[16.49,2.042],[16.03,2.03],[15.55,2.036],[15.37,2.05],[15.1,2.05],[18.2,2.07],[18.05,2.2],
[13.92,2.055],[15.81,2.05],[16.04,2.055],[16.83,2.05],[17.18,2.05],[14.97,2.055],[15.19,2.095],[15.37,2.07],[13.38,2.09],[13.33,2.13],[13.19,2.136],[13.68,2.136],[13.75,2.11],[14.38,2.136],[14.62,2.12],[14.21,2.163],[15.48,2.14],[15.79,2.136],[16.45,2.1],[16.53,2.11],[16.76,2.13],[16.9,2.142],[17.34,2.15],[17.45,2.167],[16.63,2.187],[18.07,2.192],[13.97,2.192],[14.5,2.19],[14.28,2.21],[14.66,2.203],[14.39,2.24],[14.93,2.207],[15.06,2.17],[15.19,2.21],[15,2.227],[14.97,2.267],[15.59,2.196],[15.82,2.2],[16.01,2.207],[16.2,2.217],[15.48,2.23],[15.4,2.253],[15.76,2.26],[15.93,2.27],[16.35,2.25],[16.58,2.25],[16.69,2.26],[16.82,2.223],[17.21,2.257],[16.96,2.274],[17.52,2.27],[17.56,2.28],[17.58,2.313],[16.99,2.304],[13.95,2.277],[14.01,2.324],[14.7,2.297],[14.7,2.337],[15.21,2.324],[15.43,2.34],[15.57,2.304],[15.68,2.324],[16.35,2.297],[16.33,2.337],[16.12,2.347],[15.91,2.37],[14.38,2.367],[14.49,2.387],[14.21,2.4],[14,2.405],[14.39,2.418],[14.3,2.43],[15.24,2.385],[15,2.41],[15.35,2.418],[16.49,2.364],[16.48,2.384],[16.99,2.382],[17.18,2.395],[16.92,2.418],[16.42,2.45],[17,2.447],[14.85,2.447],[15.15,2.458],[15.45,2.465],[15.69,2.472],[15.89,2.49],[17.1,2.485],[17.23,2.48],[14.14,2.48],[13.3,2.476],[17.2,2.505],[16.37,2.512],[14.86,2.52],[15.03,2.536],[15.83,2.535],[15.68,2.536],[13.9,2.532],[14.04,2.52],[14.29,2.532],[13.55,2.543],[17.26,2.54],[17.07,2.535],[17.52,2.543],[14.7,2.556],[14.64,2.583],[14.7,2.593],[16.24,2.573],[16.31,2.568],[13.78,2.613],[13.95,2.602],[14.08,2.597],[14.3,2.606],[14.09,2.63],[15.31,2.6],[15.46,2.603],[16.82,2.595],[16.94,2.617],[15.17,2.647],[15.3,2.626],[14.57,2.653],[14.39,2.664],[14.3,2.673],[13.79,2.673],[15.37,2.676],[15.44,2.694],[16,2.65],[15.89,2.68],[16.98,2.72],[14.77,2.707],[15.71,2.71],[13.59,2.712],[13.9,2.72],[14.27,2.727],[15.56,2.75],[16.48,2.747],[17.47,2.745],[17.28,2.76],[14.39,2.76],[14.63,2.765],[15.14,2.763],[16.33,2.775],[16.57,2.784],[16.51,2.788],[16.05,2.775],[16,2.788],[17.15,2.788],[13.82,2.784],[14.04,2.794],[14.3,2.788],[14.24,2.832],[15.59,2.828],[15.87,2.835],[14.27,2.862],[14.54,2.862],[16.44,2.86],[15.25,2.868],[14.27,2.895],[14.96,2.886],[15.46,2.89],[16.78,2.887],[17.18,2.897],[16.15,2.903],[13.92,2.92],[14.93,2.935],[17.73,2.942],[14.59,2.985],[13.4,3.008],[15.78,3.04],[16.78,3.036],[17.58,3.085],[14.76,3.093],[16.86,3.103],[15.95,3.126],[14.32,3.13],[17.06,3.13],[13.75,3.142],[16.6,3.144],[15.44,3.168],[15.25,3.16],[15.6,3.168],[14.03,3.198],[14.03,3.218],[15.2,3.2],[15.68,3.224],[15.34,3.25],[14.61,3.24],[14.32,3.265],[17.75,3.278],[15.86,3.29],[15.73,3.315],[14.67,3.305],[14.88,3.343],[15.25,3.352],[16.01,3.348],[17.29,3.376],[14.7,3.375],[14.81,3.375],[15.99,3.39],[16.1,3.4],[14.77,3.415],[13.44,3.43],[16.38,3.45],[15.44,3.594],[15.49,3.607],[15.52,3.677],[17.12,3.607],[17.47,3.66],[15.62,3.78],[13.77,3.836],[15.71,3.917],[17.67,3.954],[14.18,3.99]
];
// well traces, [distance, depth]
const wellTraces = [
[[5.38,0],[5.38,1.15]],
[[5.38,1.15],[5.34,1.294],[5.3,1.36],[5.17,1.4],[5.1,1.441],[4.95,1.535],[4.87,1.582],[4.76,1.655],[4.65,1.709],[3.97,2.026]],
[[5.38,1.15],[5.32,1.347],[5.15,1.475],[5.05,1.548],[4.93,1.655],[4.85,1.709],[4.31,2.023]],
[[5.38,1.15],[5.36,1.294],[5.275,1.495],[5.17,1.726]],
[[5.38,1.15],[5.42,1.3],[5.546,1.58],[5.594,1.7],[5.72,2.024]],
[[5.38,1.15],[5.43,1.25],[5.48,1.294],[5.55,1.394],[5.61,1.468],[5.78,1.615],[5.94,1.75]],
[[5.38,1.15],[5.44,1.25],[5.5,1.32],[5.57,1.388],[5.63,1.44],[5.74,1.52],[5.89,1.575],[6,1.655],[6.13,1.7],[6.81,2.024]],
[[13.18,0],[13.18,1.15]],
[[13.18,1.15],[13.14,1.294],[13.1,1.36],[12.97,1.4],[12.9,1.441],[12.75,1.535],[12.67,1.582],[12.56,1.655],[12.45,1.709],[11.77,2.026]],
[[13.18,1.15],[13.12,1.347],[12.95,1.475],[12.85,1.548],[12.73,1.655],[12.65,1.709],[12.11,2.023]],
[[13.18,1.15],[13.16,1.294],[13.075,1.495],[12.97,1.726]],
[[13.18,1.15],[13.22,1.3],[13.346,1.58],[13.394,1.7],[13.52,2.024]],
[[13.18,1.15],[13.23,1.25],[13.28,1.294],[13.35,1.394],[13.41,1.468],[13.58,1.615],[13.74,1.75]],
[[13.18,1.15],[13.24,1.25],[13.3,1.32],[13.37,1.388],[13.43,1.44],[13.54,1.52],[13.69,1.575],[13.8,1.655],[13.93,1.7],[14.61,2.024]]
];
// measured stretches on the laterals: start, change to high value, change back, end
const stretchStart = [[4.79,1.764],[4.57,1.768],[5.61,1.765],[6.19,1.768],[12.59,1.764],[12.37,1.768],[13.41,1.765],[13.99,1.768]];
const stretchHigh = [[4.695,1.824],[4.45,1.828],[5.626,1.824],[6.32,1.824],[12.495,1.824],[12.25,1.828],[13.426,1.824],[14.12,1.824]];
const stretchLow = [[4.535,1.92],[4.255,1.915],[5.66,1.909],[6.49,1.915],[12.335,1.92],[12.055,1.915],[13.46,1.909],[14.29,1.915]];
const stretchEnd = [[4.52,1.954],[4.18,1.949],[5.66,1.954],[6.59,1.954],[12.32,1.954],[11.98,1.949],[13.46,1.954],[14.39,1.954]];
const stretchValues = [1277, 3000, 1277];
const focalEvents = [[5.5,3.5],[7,3.5]];

const distanceTicks = [0,1,2,3,4,5,6,7,8,9,10,11,12,13,14,15,16,17,18];
const depthTicks = [0,.2,.4,.6,.8,1,1.2,1.4,1.6,1.8,2,2.2,2.4,2.6,2.8,3,3.2,3.4,3.6,3.8,4];
const barTicks = [1300,1400,1500,1600,1700,1800,1900,2000,2100,2200,2300,2400,2500,2600,2700,2800,2900,3000];
const barRange = [1277, 3001];

Chart.defaults.font.family = "'Liberation Sans', Arial, sans-serif";
Chart.defaults.color = '#000';
Chart.defaults.animation = false;

function measurementColor(v) {
    const t = Math.min(1, Math.max(0, (v - barRange[0]) / (barRange[1] - barRange[0])));
    return `rgb(${Math.round(255 * (1 - t))},${Math.round(255 * t)},255)`;
}

// beach balls are small canvases used as point styles
function makeBall(white) {
    const c = document.createElement('canvas');
    c.width = 62; c.height = 62;
    const g = c.getContext('2d');
    g.translate(31, 31);
    g.save();
    g.beginPath(); g.arc(0, 0, 28.5, 0, Math.PI * 2); g.clip();
    g.fillStyle = '#00ff00'; g.fillRect(-31, -31, 62, 62);
    g.fillStyle = '#fff';
    white(g);
    g.restore();
    g.beginPath(); g.arc(0, 0, 28.5, 0, Math.PI * 2);
    g.lineWidth = 1.6; g.strokeStyle = '#000'; g.stroke();
    return c;
}
const ballImages = [
    makeBall(g => {
        g.beginPath(); g.moveTo(13, -22);
        g.bezierCurveTo(-4, -20, -24, -4, -7, 25);
        g.bezierCurveTo(10, 20, 20, 2, 13, -22);
        g.fill();
    }),
    makeBall(g => {
        g.beginPath(); g.moveTo(-8, -30);
        g.quadraticCurveTo(-17, -4, -8, 18);
        g.quadraticCurveTo(12, 12, 30, -10);
        g.lineTo(30, -30); g.closePath(); g.fill();
        g.beginPath(); g.moveTo(-24, 17); g.lineTo(-8, 19); g.lineTo(-4, 29); g.lineTo(-15, 27); g.closePath(); g.fill();
    })
];

// frame and tick marks on top of everything, like the original map frame
const sectionFrame = {
    id: 'sectionFrame',
    afterDatasetsDraw(chart) {
        const { ctx, chartArea: a, scales: { x, y } } = chart;
        ctx.save();
        ctx.strokeStyle = '#000';
        ctx.lineWidth = 2;
        ctx.beginPath();
        distanceTicks.forEach(v => {
            const p = x.getPixelForValue(v);
            ctx.moveTo(p, a.bottom);
            ctx.lineTo(p, a.bottom + (v % 2 === 0 ? 18 : 9));
        });
        depthTicks.forEach((v, i) => {
            const p = y.getPixelForValue(v);
            ctx.moveTo(a.left, p);
            ctx.lineTo(a.left - (i % 5 === 0 ? 16 : 9), p);
        });
        ctx.stroke();
        ctx.lineWidth = 6;
        ctx.strokeRect(a.left, a.top, a.right - a.left, a.bottom - a.top);
        ctx.restore();
    }
};

const barFrame = {
    id: 'barFrame',
    afterDatasetsDraw(chart) {
        const { ctx, chartArea: a, scales: { x } } = chart;
        const mid = (a.top + a.bottom) / 2;
        ctx.save();
        ctx.strokeStyle = '#000';
        ctx.lineJoin = 'miter';
        ctx.lineWidth = 2;
        ctx.beginPath();
        barTicks.forEach(v => {
            const p = x.getPixelForValue(v);
            ctx.moveTo(p, a.bottom);
            ctx.lineTo(p, a.bottom + (v % 500 === 0 ? 17 : 9));
        });
        ctx.stroke();
        ctx.lineWidth = 6;
        ctx.strokeRect(a.left, a.top, a.right - a.left, a.bottom - a.top);
        // left cap is hollow, right cap solid
        ctx.lineWidth = 5;
        ctx.fillStyle = '#fff';
        ctx.beginPath();
        ctx.moveTo(a.left, a.top - 1); ctx.lineTo(a.left - 31, mid); ctx.lineTo(a.left, a.bottom + 1); ctx.closePath();
        ctx.fill(); ctx.stroke();
        ctx.fillStyle = '#000';
        ctx.beginPath();
        ctx.moveTo(a.right, a.top - 3); ctx.lineTo(a.right + 36, mid); ctx.lineTo(a.right, a.bottom + 3); ctx.closePath();
        ctx.fill();
        ctx.restore();
    }
};

function eventSet(data, fill) {
    return { data, backgroundColor: fill, borderColor: '#000', borderWidth: 1.5, pointRadius: 11, clip: 0 };
}

const layers = [
    eventSet(yellowEvents, '#ffff00'),
    eventSet(redEvents, '#ff0000'),
    eventSet(greenEvents, '#2e8b57'),
    { data: focalEvents, pointStyle: ctx => ballImages[ctx.dataIndex], pointRadius: 29, clip: 0 }
];
wellTraces.forEach(t => layers.push({
    data: t, showLine: true, borderColor: '#0000ff', borderWidth: 5, pointRadius: 0, tension: 0, clip: 0
}));
stretchStart.forEach((s, i) => {
    const cuts = [s, stretchHigh[i], stretchLow[i], stretchEnd[i]];
    stretchValues.forEach((v, k) => layers.push({
        data: [cuts[k], cuts[k + 1]], showLine: true, borderColor: measurementColor(v), borderWidth: 38,
        borderCapStyle: 'round', pointRadius: 0, tension: 0, clip: 0
    }));
});
// chart.js paints lower order last, so count down to paint in list order
layers.forEach((d, i) => { d.order = layers.length - i; });

new Chart(document.getElementById('section'), {
    type: 'scatter',
    data: { datasets: layers },
    plugins: [sectionFrame],
    options: {
        responsive: false,
        events: [],
        layout: { autoPadding: false, padding: { top: 13.5, right: 4, left: 0, bottom: 0 } },
        plugins: { legend: { display: false }, tooltip: { enabled: false } },
        scales: {
            x: {
                type: 'linear', min: 0, max: 18.21,
                afterBuildTicks: s => { s.ticks = distanceTicks.map(v => ({ value: v })); },
                afterFit: s => { s.height = 136; s.paddingLeft = 0; s.paddingRight = 0; },
                grid: { color: '#000', lineWidth: 1.5, drawTicks: false },
                border: { display: false },
                ticks: { font: { size: 38 }, padding: 22, autoSkip: false, maxRotation: 0, callback: v => (v % 2 === 0 ? String(v) : '') },
                title: { display: true, text: 'Distance (km)', font: { size: 54 }, padding: 0 }
            },
            y: {
                type: 'linear', min: 0, max: 4, reverse: true,
                afterBuildTicks: s => { s.ticks = depthTicks.map(v => ({ value: v })); },
                afterFit: s => { s.width = 131; s.paddingTop = 0; s.paddingBottom = 0; },
                grid: {
                    color: c => (c.tick && Number.isInteger(c.tick.value) ? '#000' : 'rgba(0,0,0,0)'),
                    lineWidth: 1.5, drawTicks: false
                },
                border: { display: false },
                ticks: { font: { size: 38 }, padding: 29, autoSkip: false, callback: v => (Number.isInteger(v) ? String(v) : '') },
                title: { display: true, text: 'Depth (km)', font: { size: 54 }, padding: { top: 8, bottom: 0 } }
            }
        }
    }
});

new Chart(document.getElementById('colorbar'), {
    type: 'bar',
    data: {
        labels: ['measurement'],
        datasets: [{
            data: [barRange],
            barPercentage: 1, categoryPercentage: 1,
            backgroundColor: c => {
                const a = c.chart.chartArea;
                if (!a) return '#fff';
                const g = c.chart.ctx.createLinearGradient(a.left, 0, a.right, 0);
                g.addColorStop(0, measurementColor(barRange[0]));
                g.addColorStop(1, measurementColor(barRange[1]));
                return g;
            }
        }]
    },
    plugins: [barFrame],
    options: {
        indexAxis: 'y',
        responsive: false,
        events: [],
        layout: { padding: { top: 20, left: 320, right: 192, bottom: 0 } },
        plugins: { legend: { display: false }, tooltip: { enabled: false } },
        scales: {
            y: { display: false },
            x: {
                type: 'linear', min: barRange[0], max: barRange[1],
                afterBuildTicks: s => { s.ticks = barTicks.map(v => ({ value: v })); },
                afterFit: s => { s.height = 134; s.paddingLeft = 0; s.paddingRight = 0; },
                grid: { display: false, drawTicks: false },
                border: { display: false },
                ticks: { font: { size: 38 }, padding: 22, autoSkip: false, maxRotation: 0, callback: v => (v % 500 === 0 ? String(v) : '') },
                title: { display: true, text: 'measurement', font: { size: 54 }, padding: 0 }
            }
        }
    }
});
</script>
</body>
</html>
